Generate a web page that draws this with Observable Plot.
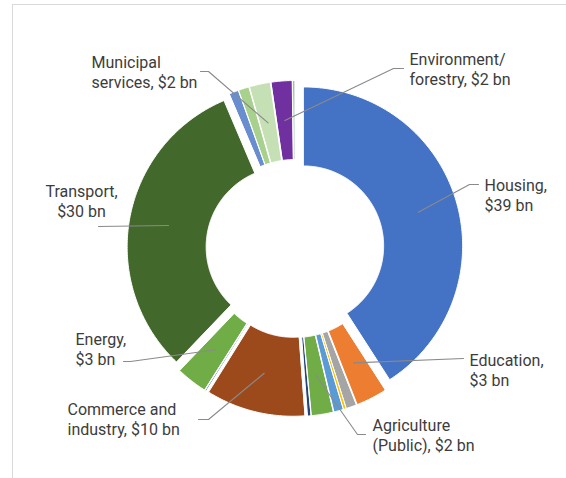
<!DOCTYPE html>
<html><head><meta charset="utf-8">
<script src="https://cdn.jsdelivr.net/npm/d3@7"></script>
<script src="https://cdn.jsdelivr.net/npm/@observablehq/plot@0.6"></script>
<style>
html,body{margin:0;padding:0;background:#fff;}
#wrap{position:relative;width:566px;height:478px;overflow:hidden;}
#frame{position:absolute;left:12px;top:4px;right:-4px;bottom:-4px;border-top:1px solid #d9d9d9;border-left:1px solid #d9d9d9;}
#wrap svg{position:absolute;left:0;top:0;}
</style></head><body><div id="wrap"><div id="frame"></div></div>
<script>
// Slices in clockwise order from 12 o'clock (US$ bn)
const categories = ["Housing","Education","Other A","Other B","Other C","Agriculture (Public)","Other D",
  "Commerce and industry","Other E","Energy","Transport","Other F","Other G","Municipal services","Environment/forestry","Other H"];
const values = [39, 3.0, 1.0, 0.25, 0.9, 2.1, 0.3, 9.6, 0.1, 3.0, 30, 0.9, 1.0, 2.0, 2.0, 0.2];
const colors = ["#4472C4","#ED7D31","#A5A5A5","#FFC000","#5B9BD5","#70AD47","#264478",
  "#9C4A1C","#4472C4","#70AD47","#43682B","#698ED0","#A9D18E","#C5E0B4","#7030A0","#9DC3A6"];
// Label wording (line breaks as in the original)
const labelNames = {
  "Housing": "Housing",
  "Education": "Education",
  "Agriculture (Public)": "Agriculture\n(Public)",
  "Commerce and industry": "Commerce and\nindustry",
  "Energy": "Energy",
  "Transport": "Transport",
  "Municipal services": "Municipal\nservices",
  "Environment/forestry": "Environment/\nforestry"
};

// Layout (pixels): donut geometry and label placement
const geom = {cx: 294.5, cy: 248, R: 159, r: 80, explode: 9};
const labelLayout = {
  "Housing":               {x: 484, y: 194.5, anchor: "start",  leader: [[469,184],[478,184]]},
  "Education":             {x: 469, y: 369,   anchor: "start",  leader: [[463,358]]},
  "Agriculture (Public)":  {x: 372, y: 434,   anchor: "start",  leader: [[357,434],[365,434]]},
  "Commerce and industry": {x: 67,  y: 418,   anchor: "start",  leader: [[208,419],[198,419]]},
  "Energy":                {x: 75,  y: 348,   anchor: "start",  leader: [[130,361],[123,361]]},
  "Transport":             {x: 81,  y: 200.5, anchor: "middle", leader: [[98,226]]},
  "Municipal services":    {x: 91,  y: 71,    anchor: "start",  leader: [[208,71],[200,71]]},
  "Environment/forestry":  {x: 409, y: 68,    anchor: "start",  leader: [[393,68],[403,68]]}
};

const rows = categories.map((name, i) => ({name, value: values[i], color: colors[i]}));
const arcs = d3.pie().sort(null).value(d => d.value)(rows);

function pt(a, rr, mid) {
  return [geom.cx + geom.explode * Math.sin(mid) + rr * Math.sin(a),
          geom.cy - geom.explode * Math.cos(mid) - rr * Math.cos(a)];
}

const poly = [];
const leaders = [];
const labels = [];
for (const arc of arcs) {
  const {startAngle: a0, endAngle: a1} = arc;
  const mid = (a0 + a1) / 2;
  const n = Math.max(2, Math.ceil((a1 - a0) / 0.01));
  const name = arc.data.name;
  for (let k = 0; k <= n; k++) {
    const [x, y] = pt(a0 + (a1 - a0) * k / n, geom.R, mid);
    poly.push({name, color: arc.data.color, x, y});
  }
  for (let k = n; k >= 0; k--) {
    const [x, y] = pt(a0 + (a1 - a0) * k / n, geom.r, mid);
    poly.push({name, color: arc.data.color, x, y});
  }
  const L = labelLayout[name];
  if (L) {
    const [ax, ay] = pt(mid, (geom.R + geom.r) / 2, mid);
    leaders.push({name, x: ax, y: ay});
    for (const [x, y] of L.leader) leaders.push({name, x, y});
    const v = Math.round(arc.data.value);
    const ln = labelNames[name];
    const text = ln.includes("\n") ? `${ln}, $${v} bn` : `${ln},\n$${v} bn`;
    labels.push({name, x: L.x, y: L.y, anchor: L.anchor, text});
  }
}

const textOpts = {x: "x", y: "y", text: "text", fill: "#3c3c3c", fontSize: 16,
  fontFamily: "Roboto, sans-serif", lineHeight: 1.25, lineAnchor: "middle"};

const chart = Plot.plot({
  width: 566, height: 478, margin: 0,
  x: {domain: [0, 566], range: [0, 566], axis: null},
  y: {domain: [0, 478], range: [0, 478], axis: null},
  color: {type: "identity"},
  style: {background: "transparent", overflow: "visible"},
  marks: [
    Plot.line(poly, {x: "x", y: "y", z: "name", fill: "color", stroke: "white", strokeWidth: 1, curve: "linear-closed"}),
    Plot.line(leaders, {x: "x", y: "y", z: "name", stroke: "#8a8a8a", strokeWidth: 1.1}),
    Plot.text(labels.filter(d => d.anchor === "start"), {...textOpts, textAnchor: "start"}),
    Plot.text(labels.filter(d => d.anchor === "middle"), {...textOpts, textAnchor: "middle"})
  ]
});
document.getElementById("wrap").appendChild(chart);
</script>
</body></html>
